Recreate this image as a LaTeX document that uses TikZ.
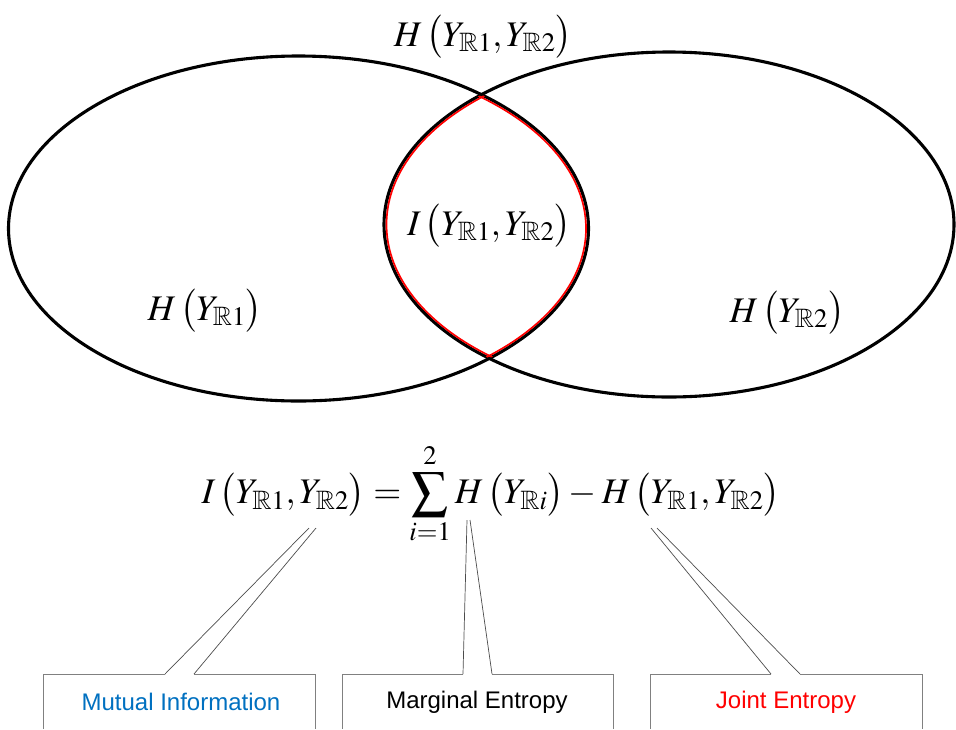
\documentclass[tikz,border=0pt]{standalone}
\usepackage{mathptmx}
\usepackage{amssymb}
\usepackage[no-math]{fontspec}
\setmainfont{Liberation Serif}
\newfontfamily\labelfont{Liberation Sans}
\definecolor{miblue}{HTML}{0070C0}
\definecolor{boxgrey}{HTML}{808080}
\newcommand\mfont{\fontsize{36}{40}\selectfont}
\newcommand\Ya{Y_{\mathbb{R}1}}
\newcommand\Yb{Y_{\mathbb{R}2}}
\newcommand\Lp{\,\bigl(}
\newcommand\Rp{\bigr)}
\begin{document}
\begin{tikzpicture}[x=1pt,y=-1pt,
  venn/.style={draw=black,line width=3.1pt},
  lens/.style={draw=red,line width=1.7pt},
  mathlbl/.style={inner sep=0pt,font=\mfont},
  boxline/.style={draw=boxgrey,line width=0.9pt},
  callout/.style={draw=black!70,line width=0.7pt},
  lbl/.style={inner sep=0pt,font=\labelfont\fontsize{24}{28}\selectfont}]
\useasboundingbox (0,0) rectangle (956,729);
% ellipses
\draw[venn] (298.5,228.5) ellipse [x radius=290pt,y radius=172.5pt];
\draw[venn] (669,224.5) ellipse [x radius=285pt,y radius=172.5pt];
% red lens
\begin{scope}
  \clip (669,224.5) ellipse [x radius=285pt,y radius=172.5pt];
  \draw[lens] (298.5,228.5) ellipse [x radius=287.5pt,y radius=170pt];
\end{scope}
\begin{scope}
  \clip (298.5,228.5) ellipse [x radius=290pt,y radius=172.5pt];
  \draw[lens] (669,224.5) ellipse [x radius=282.5pt,y radius=170pt];
\end{scope}
% labels in the diagram
\node[mathlbl] (hj) at (483,37) {$H\Lp\Ya,\Yb\Rp$};
\node[mathlbl] (mi) at (489,226) {$I\Lp\Ya,\Yb\Rp$};
\node[mathlbl] (h1) at (205,311) {$H\Lp\Ya\Rp$};
\node[mathlbl] (h2) at (787,313) {$H\Lp\Yb\Rp$};
% formula
\node[mathlbl] (eq) at (491,494) {$I\Lp\Ya,\Yb\Rp=\displaystyle\sum_{i=1}^{2}H\Lp Y_{\mathbb{R}i}\Rp-H\Lp\Ya,\Yb\Rp$};
% callout points
\coordinate (a1) at (309,528);
\coordinate (a2) at (316,528);
\coordinate (b1) at (467,520);
\coordinate (b2) at (470,520);
\coordinate (c1) at (651,528);
\coordinate (c2) at (657,528);
\coordinate (n1l) at (165,674);
\coordinate (n1r) at (194,674);
\coordinate (n2l) at (463,674);
\coordinate (n2r) at (492,674);
\coordinate (n3l) at (771,674);
\coordinate (n3r) at (800,674);
% boxes
\draw[boxline] (n1l) -- (43,674) -- (43,729);
\draw[boxline] (n1r) -- (315,674) -- (315,729);
\draw[boxline] (n2l) -- (342,674) -- (342,729);
\draw[boxline] (n2r) -- (613,674) -- (613,729);
\draw[boxline] (n3l) -- (650,674) -- (650,729);
\draw[boxline] (n3r) -- (922,674) -- (922,729);
% callout lines
\draw[callout] (n1l) -- (a1);
\draw[callout] (n1r) -- (a2);
\draw[callout] (n2l) -- (b1);
\draw[callout] (n2r) -- (b2);
\draw[callout] (n3l) -- (c1);
\draw[callout] (n3r) -- (c2);
% box labels
\node[lbl,text=miblue] (l1) at (181,702) {Mutual Information};
\node[lbl,text=black] (l2) at (477,702) {Marginal Entropy};
\node[lbl,text=red] (l3) at (786,702) {Joint Entropy};
\end{tikzpicture}
\end{document}
